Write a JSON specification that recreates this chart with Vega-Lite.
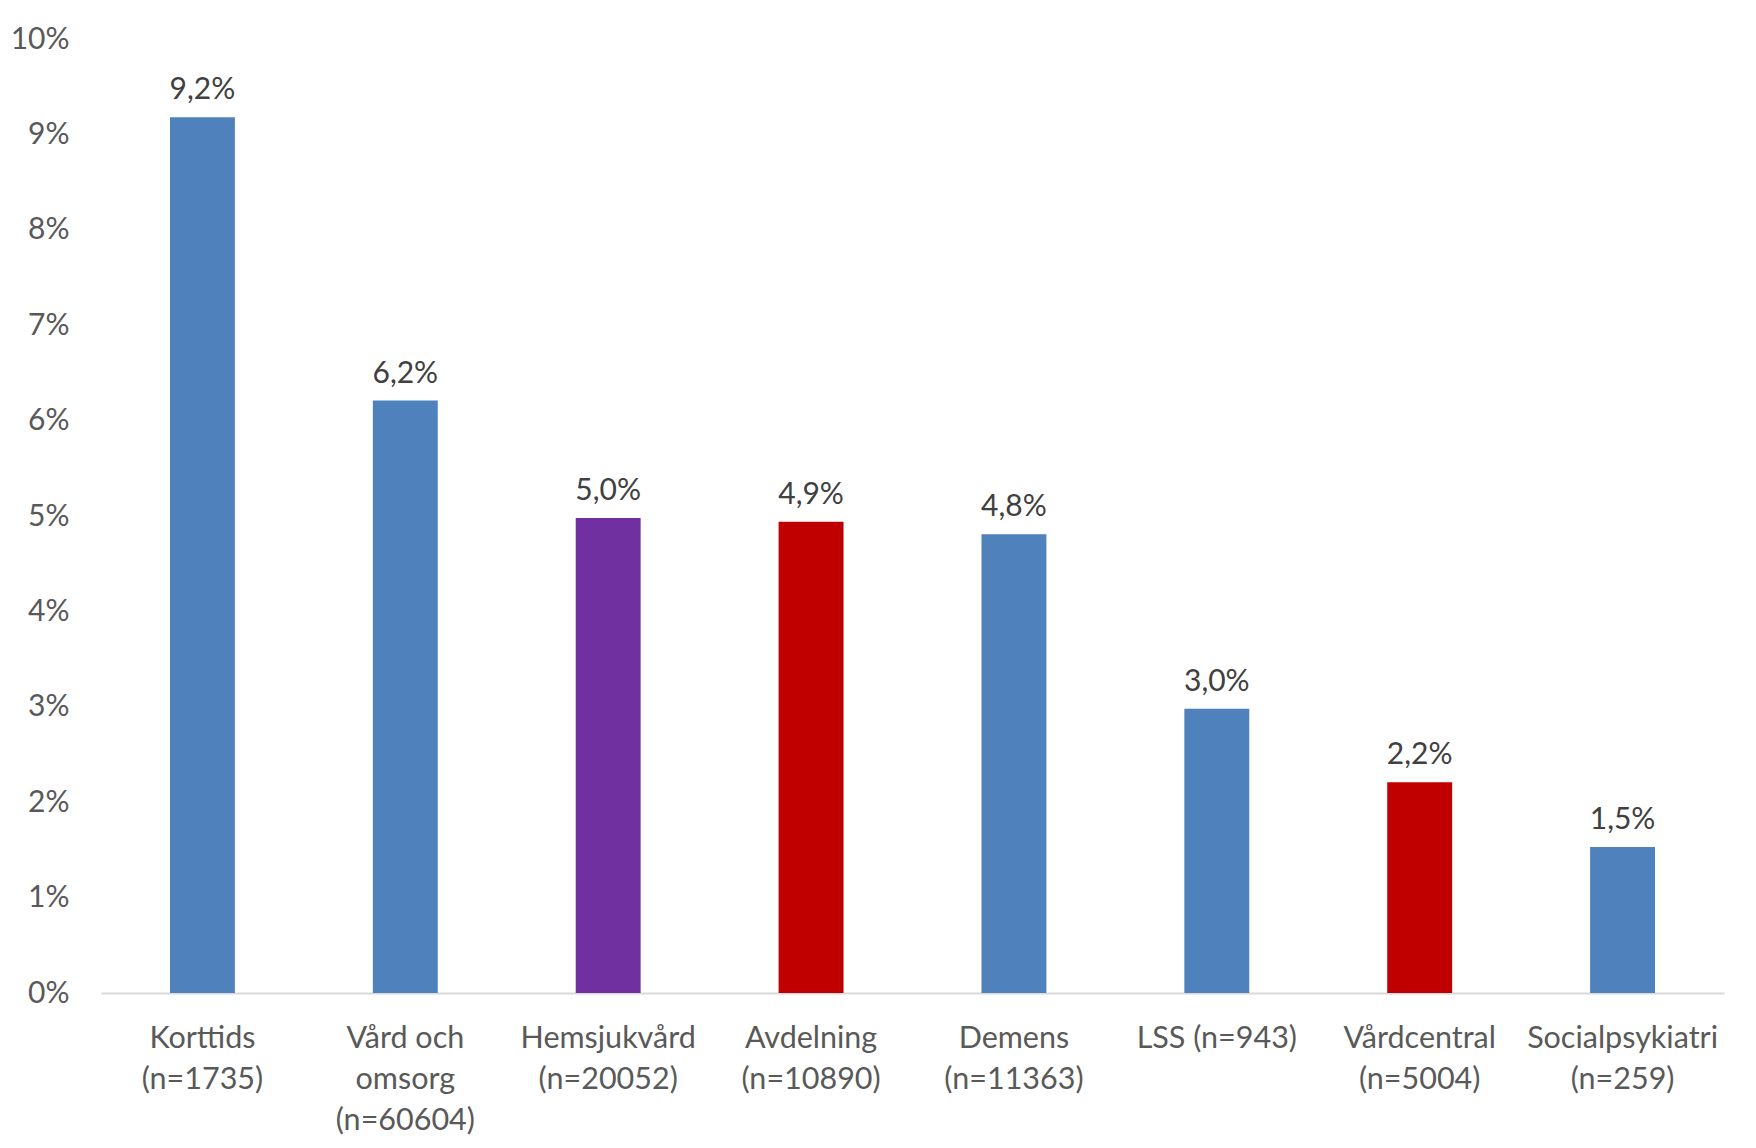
{
  "$schema": "https://vega.github.io/schema/vega-lite/v6.json",
  "width": 1623,
  "height": 954,
  "autosize": {"type": "none"},
  "padding": {"left": 101, "top": 39, "right": 32, "bottom": 155},
  "background": "white",
  "config": {
    "locale": {"number": {"decimal": ",", "thousands": " ", "grouping": [3], "currency": ["", " kr"]}},
    "view": {"stroke": null},
    "font": "Lato"
  },
  "data": {
    "values": [
      {"kategori": "Korttids|(n=1735)", "andel": 0.0918, "grupp": "blå"},
      {"kategori": "Vård och|omsorg|(n=60604)", "andel": 0.0621, "grupp": "blå"},
      {"kategori": "Hemsjukvård|(n=20052)", "andel": 0.0498, "grupp": "lila"},
      {"kategori": "Avdelning|(n=10890)", "andel": 0.0494, "grupp": "röd"},
      {"kategori": "Demens|(n=11363)", "andel": 0.0481, "grupp": "blå"},
      {"kategori": "LSS (n=943)", "andel": 0.0298, "grupp": "blå"},
      {"kategori": "Vårdcentral|(n=5004)", "andel": 0.0221, "grupp": "röd"},
      {"kategori": "Socialpsykiatri|(n=259)", "andel": 0.0153, "grupp": "blå"}
    ]
  },
  "encoding": {
    "x": {
      "field": "kategori",
      "type": "nominal",
      "sort": null,
      "scale": {"paddingInner": 0.68, "paddingOuter": 0.34},
      "axis": {
        "title": null,
        "labelAngle": 0,
        "labelExpr": "split(datum.label, '|')",
        "labelFont": "Lato",
        "labelFontSize": 30.5,
        "labelColor": "#595959",
        "labelLineHeight": 41,
        "labelPadding": 30,
        "labelLimit": 400,
        "ticks": false,
        "domainColor": "#d9d9d9",
        "domainWidth": 2
      }
    },
    "y": {
      "field": "andel",
      "type": "quantitative",
      "scale": {"domain": [0, 0.1]},
      "axis": {
        "title": null,
        "format": ".0%",
        "values": [0, 0.01, 0.02, 0.03, 0.04, 0.05, 0.06, 0.07, 0.08, 0.09, 0.1],
        "grid": false,
        "domain": false,
        "ticks": false,
        "labelFont": "Lato",
        "labelFontSize": 30,
        "labelColor": "#595959",
        "labelPadding": 32
      }
    }
  },
  "layer": [
    {
      "mark": {"type": "bar"},
      "encoding": {
        "color": {
          "field": "grupp",
          "type": "nominal",
          "scale": {"domain": ["blå", "lila", "röd"], "range": ["#4F81BD", "#7030A0", "#C00000"]},
          "legend": null
        }
      }
    },
    {
      "mark": {"type": "text", "baseline": "alphabetic", "dy": -18, "fontSize": 30, "font": "Lato", "color": "#404040"},
      "encoding": {
        "text": {"field": "andel", "type": "quantitative", "format": ".1%"}
      }
    }
  ]
}
